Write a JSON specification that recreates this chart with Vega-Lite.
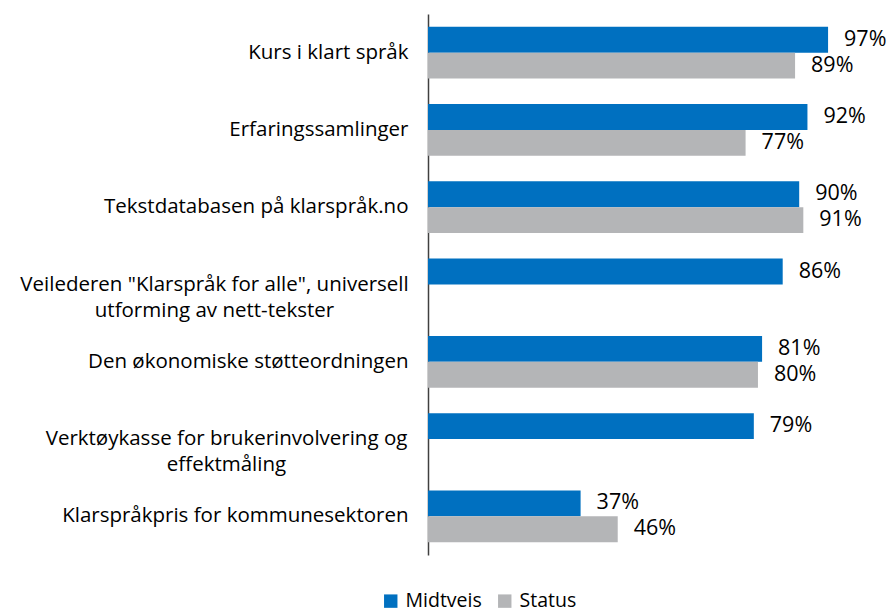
{
  "$schema": "https://vega.github.io/schema/vega-lite/v6.json",
  "width": 464,
  "height": 541,
  "autosize": {"type": "none"},
  "padding": {"left": 428, "top": 14, "right": 0, "bottom": 59},
  "background": "white",
  "config": {"view": {"stroke": null}, "font": "Open Sans"},
  "data": {
    "values": [
      {"kategori": "Kurs i klart språk", "serie": "Midtveis", "verdi": 0.97},
      {"kategori": "Kurs i klart språk", "serie": "Status", "verdi": 0.89},
      {"kategori": "Erfaringssamlinger", "serie": "Midtveis", "verdi": 0.92},
      {"kategori": "Erfaringssamlinger", "serie": "Status", "verdi": 0.77},
      {"kategori": "Tekstdatabasen på klarspråk.no", "serie": "Midtveis", "verdi": 0.90},
      {"kategori": "Tekstdatabasen på klarspråk.no", "serie": "Status", "verdi": 0.91},
      {"kategori": "Veilederen \"Klarspråk for alle\", universell utforming av nett-tekster", "serie": "Midtveis", "verdi": 0.86},
      {"kategori": "Den økonomiske støtteordningen", "serie": "Midtveis", "verdi": 0.81},
      {"kategori": "Den økonomiske støtteordningen", "serie": "Status", "verdi": 0.80},
      {"kategori": "Verktøykasse for brukerinvolvering og effektmåling", "serie": "Midtveis", "verdi": 0.79},
      {"kategori": "Klarspråkpris for kommunesektoren", "serie": "Midtveis", "verdi": 0.37},
      {"kategori": "Klarspråkpris for kommunesektoren", "serie": "Status", "verdi": 0.46}
    ]
  },
  "encoding": {
    "y": {
      "field": "kategori",
      "type": "nominal",
      "sort": null,
      "scale": {"paddingInner": 0.33, "paddingOuter": 0.165},
      "axis": {
        "title": null,
        "ticks": false,
        "domainColor": "#404040",
        "domainWidth": 1.5,
        "labelFontSize": 20.5,
        "labelColor": "#000000",
        "labelLimit": 0,
        "labelLineHeight": 26,
        "labelAlign": {
          "condition": {"test": "indexof(datum.value, 'Veilederen') >= 0 || indexof(datum.value, 'Verktøykasse') >= 0", "value": "center"},
          "value": "right"
        },
        "labelPadding": {
          "condition": [
            {"test": "indexof(datum.value, 'Veilederen') >= 0", "value": 214},
            {"test": "indexof(datum.value, 'Verktøykasse') >= 0", "value": 202}
          ],
          "value": 20
        },
        "labelExpr": "datum.label == 'Veilederen \"Klarspråk for alle\", universell utforming av nett-tekster' ? ['Veilederen \"Klarspråk for alle\", universell', 'utforming av nett-tekster'] : datum.label == 'Verktøykasse for brukerinvolvering og effektmåling' ? ['Verktøykasse for brukerinvolvering og', 'effektmåling'] : datum.label"
      }
    },
    "yOffset": {"field": "serie", "type": "nominal", "scale": {"domain": ["Midtveis", "Status"]}},
    "x": {"field": "verdi", "type": "quantitative", "scale": {"domain": [0, 1.125]}, "axis": null}
  },
  "layer": [
    {
      "mark": {"type": "bar"},
      "encoding": {
        "color": {
          "field": "serie",
          "type": "nominal",
          "scale": {"domain": ["Midtveis", "Status"], "range": ["#0070C0", "#B4B5B7"]},
          "legend": {
            "title": null,
            "orient": "none",
            "direction": "horizontal",
            "legendX": -47,
            "legendY": 577,
            "symbolType": "square",
            "symbolSize": 180,
            "symbolStrokeWidth": 0,
            "labelFontSize": 19.5,
            "labelColor": "#000000",
            "labelOffset": 5,
            "columnPadding": 13
          }
        }
      }
    },
    {
      "mark": {"type": "text", "align": "left", "baseline": "middle", "dx": 16, "fontSize": 21.5, "color": "#000000"},
      "encoding": {"text": {"field": "verdi", "type": "quantitative", "format": ".0%"}}
    }
  ]
}
